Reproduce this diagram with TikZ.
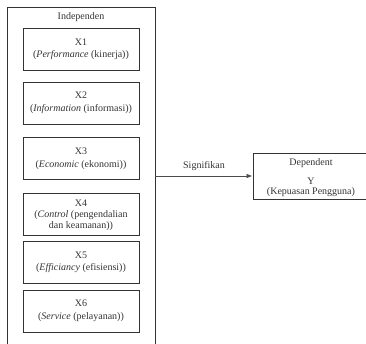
\documentclass[tikz,border=0pt]{standalone}
\usepackage{fontspec}
\setmainfont{Liberation Serif}
\usetikzlibrary{arrows.meta}
\definecolor{ink}{HTML}{333333}
\tikzset{
  txt/.style={text=ink, font=\fontsize{10}{12.5}\selectfont, align=center, inner sep=0pt},
  varbox/.style={draw=ink, line width=0.9pt, minimum width=116pt, minimum height=42pt, txt},
  outerbox/.style={draw=ink, line width=0.9pt, minimum width=148pt, minimum height=338pt},
  conn/.style={draw=black!70, line width=0.8pt, -{Latex[length=6pt,width=4.5pt]}}
}
\begin{document}
\begin{tikzpicture}[x=1pt,y=1pt]
\useasboundingbox (0,0) rectangle (366,-343);
\clip (0,0) rectangle (366,-343);
\node[outerbox] (outer) at (81,-176) {};
\node[txt] (ind) at (81,-17) {Independen};
\node[varbox] (x1) at (81,-49.5) {X1\\(\textit{Performance} (kinerja))};
\node[varbox] (x2) at (81,-103) {X2\\(\textit{Information} (informasi))};
\node[varbox] (x3) at (81,-158.5) {X3\\(\textit{Economic} (ekonomi))};
\node[varbox, text height=0pt] (x4) at (81,-214) {};
\node[txt] (x4t) at (81,-215.5) {X4\\[-1.5pt](\textit{Control} (pengendalian\\[-1.5pt]dan keamanan))};
\node[varbox] (x5) at (81,-262.5) {X5\\(\textit{Efficiancy} (efisiensi))};
\node[varbox] (x6) at (81,-311) {X6\\(\textit{Service} (pelayanan))};
\node[varbox, minimum height=46pt] (dep) at (311,-176) {};
\node[txt] (dept) at (311,-178) {Dependent\\[6pt]Y\\[-2pt](Kepuasan Pengguna)};
\draw[conn] (outer.east) -- node[txt, above=5pt] {Signifikan} (dep.west);
\end{tikzpicture}
\end{document}
